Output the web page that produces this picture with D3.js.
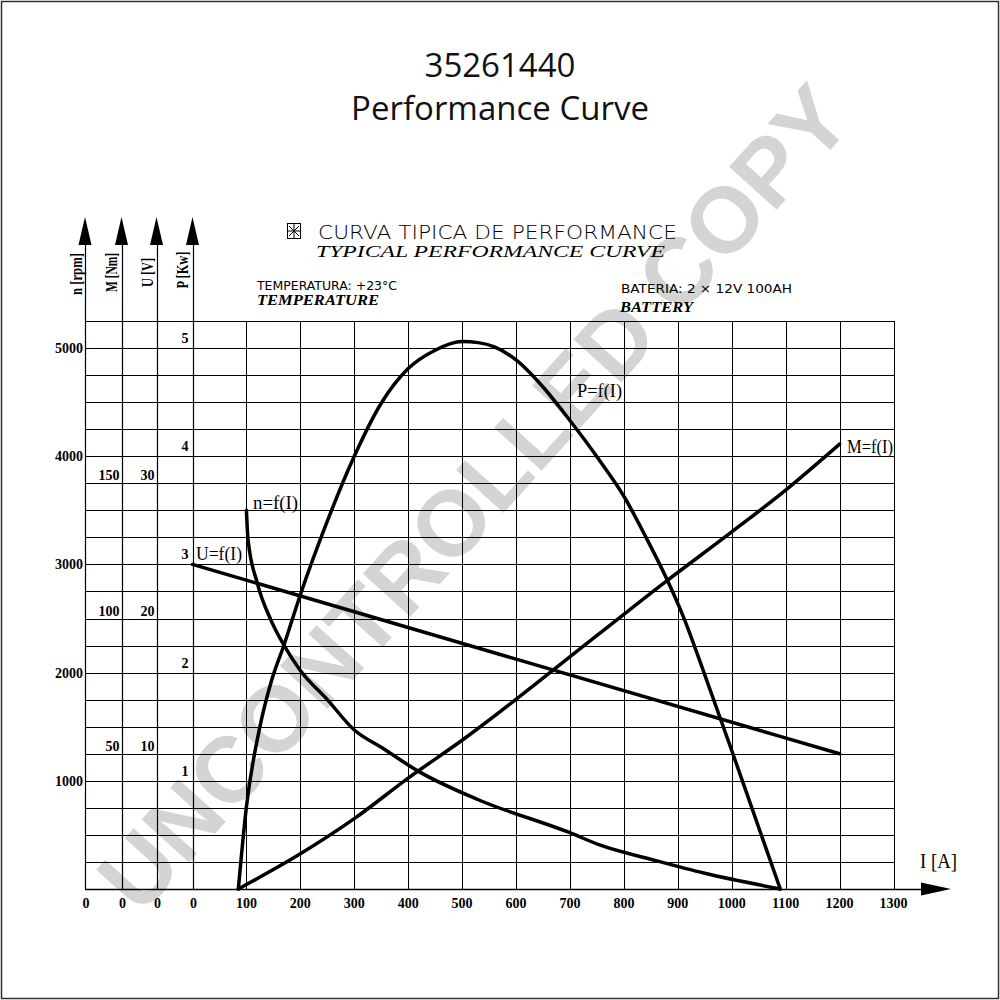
<!DOCTYPE html>
<html><head><meta charset="utf-8">
<script src="https://cdn.jsdelivr.net/npm/d3@7/dist/d3.min.js"></script>
<style>body{margin:0;background:#fff}svg{display:block}</style>
</head><body>
<svg id="c" width="1000" height="1000"></svg>
<script>
// ---------- data ----------
const titleLines = ["35261440", "Performance Curve"];
const currentTicks = [100,200,300,400,500,600,700,800,900,1000,1100,1200,1300];
const speedTicks = [1000,2000,3000,4000,5000];
const torqueTicks = [50,100,150];
const voltageTicks = [10,20,30];
const powerTicks = [1,2,3,4,5];
const gridSpeedStep = 250;   // rpm per horizontal grid line
const gridCurrentStep = 100; // A per vertical grid line

// n = f(I)  [rpm]
const speedI   = [100, 103, 120, 145, 170, 200, 250, 300, 350, 420, 530, 700, 755, 855, 950, 1090];
const speedVal = [3500,3230,2830,2490,2250,2020,1750,1470,1310,1085,825, 520, 407, 268, 145, 0];
// U = f(I)  [V]
const voltI   = [0, 600, 1200];
const voltVal = [24, 17, 10];
// M = f(I)  [Nm]
const torqueI   = [85, 200, 300, 400, 500, 755, 880, 1000, 1100, 1200];
const torqueVal = [0, 13, 26, 41, 55, 94.5, 114, 132, 147.5, 164.5];
// P = f(I)  [kW]
const powerI   = [85, 100, 125, 145, 170, 200, 250, 300, 350, 400, 450, 500, 530, 560, 600, 650, 700, 755, 800, 840, 880, 910, 950, 1000, 1045, 1090];
const powerVal = [0, 0.76, 1.5, 1.9, 2.26, 2.72, 3.40, 4.0, 4.49, 4.81, 4.98, 5.06, 5.05, 5.01, 4.89, 4.64, 4.33, 3.96, 3.63, 3.26, 2.86, 2.52, 1.98, 1.28, 0.64, 0];

// ---------- layout ----------
const svg = d3.select("#c");
const X0 = 192.5, X1 = 893.5, Y0 = 889, YTOP = 321;
const axisX = {n: 85, M: 121.5, U: 156.5, P: 192.5};
const x  = d3.scaleLinear().domain([0, 1300]).range([X0, X1]);
const yN = d3.scaleLinear().domain([0, 5250]).range([Y0, YTOP]);
const yM = d3.scaleLinear().domain([0, 210]).range([Y0, YTOP]);
const yU = d3.scaleLinear().domain([0, 42]).range([Y0, YTOP]);
const yP = d3.scaleLinear().domain([0, 5.25]).range([Y0, YTOP]);
const serif = "'Liberation Serif','DejaVu Serif',serif";
const sans  = "'Liberation Sans','DejaVu Sans',sans-serif";

// border
svg.append("rect").attr("x",1.5).attr("y",1.5).attr("width",997).attr("height",997)
  .attr("fill","none").attr("stroke","#333").attr("stroke-width",1.5);

// watermark (under everything)
svg.append("text").attr("transform","translate(474,498) rotate(-48)")
  .attr("text-anchor","middle").attr("dominant-baseline","central")
  .attr("font-family",sans).attr("font-weight","bold").attr("font-size",93)
  .attr("fill","#d4d4d4").text("UNCONTROLLED COPY");

// title
svg.append("text").attr("x",500).attr("y",77).attr("text-anchor","middle")
  .attr("font-family","'Open Sans','Noto Sans',sans-serif").attr("font-size",33).attr("fill","#111").text(titleLines[0]);
svg.append("text").attr("x",500).attr("y",120).attr("text-anchor","middle")
  .attr("font-family","'Open Sans','Noto Sans',sans-serif").attr("font-size",33).attr("fill","#111").text(titleLines[1]);

// header block
const ic = svg.append("g").attr("stroke","#000").attr("stroke-width",1).attr("fill","none");
ic.append("rect").attr("x",287.5).attr("y",223.5).attr("width",13).attr("height",15);
ic.append("line").attr("x1",294).attr("y1",224).attr("x2",294).attr("y2",238);
ic.append("line").attr("x1",288).attr("y1",231).attr("x2",300).attr("y2",231);
ic.append("line").attr("x1",289).attr("y1",226).attr("x2",299).attr("y2",236);
ic.append("line").attr("x1",299).attr("y1",226).attr("x2",289).attr("y2",236);

function txt(t, xx, yy, opts) {
  const e = svg.append("text").attr("x",xx).attr("y",yy).text(t)
    .attr("font-family",opts.family||sans).attr("font-size",opts.size||12).attr("fill","#000");
  if (opts.weight) e.attr("font-weight",opts.weight);
  if (opts.style) e.attr("font-style",opts.style);
  if (opts.len) e.attr("textLength",opts.len).attr("lengthAdjust","spacingAndGlyphs");
  if (opts.anchor) e.attr("text-anchor",opts.anchor);
  return e;
}
txt("CURVA TIPICA DE PERFORMANCE", 318, 238.5, {family:"'DejaVu Sans',sans-serif", size:19, len:359}).attr("font-weight",200);
txt("TYPICAL PERFORMANCE CURVE", 316, 257, {family:serif, size:17, style:"italic", len:349});
txt("TEMPERATURA: +23°C", 257, 290, {family:"'DejaVu Sans',sans-serif", size:12, len:140});
txt("TEMPERATURE", 257, 305, {family:serif, size:14, style:"italic", weight:"bold", len:122});
txt("BATERIA: 2 × 12V 100AH", 621, 292.5, {family:"'DejaVu Sans',sans-serif", size:12, len:171});
txt("BATTERY", 620, 311.5, {family:serif, size:14, style:"italic", weight:"bold", len:73});

// ---------- grid ----------
const grid = svg.append("g").attr("stroke","#000").attr("stroke-width",1).attr("shape-rendering","crispEdges");
const hVals = d3.range(gridSpeedStep, 5251, gridSpeedStep);
grid.selectAll(".h").data(hVals).join("line")
  .attr("x1",axisX.n).attr("x2",X1).attr("y1",d=>Math.round(yN(d))+0.5).attr("y2",d=>Math.round(yN(d))+0.5);
const vVals = d3.range(gridCurrentStep, 1301, gridCurrentStep);
grid.selectAll(".v").data(vVals).join("line")
  .attr("x1",d=>Math.round(x(d))+0.5).attr("x2",d=>Math.round(x(d))+0.5).attr("y1",YTOP).attr("y2",Y0);

// vertical value axes with arrows
Object.values(axisX).forEach(ax => {
  svg.append("line").attr("x1",Math.round(ax)+0.5).attr("x2",Math.round(ax)+0.5).attr("y1",240).attr("y2",Y0)
    .attr("stroke","#000").attr("stroke-width",1.2);
  svg.append("path").attr("d",`M${ax},217 L${ax-6.5},245 L${ax+6.5},245 Z`).attr("fill","#000");
});
// horizontal current axis with arrow
svg.append("line").attr("x1",axisX.n).attr("x2",925).attr("y1",Y0+0.5).attr("y2",Y0+0.5)
  .attr("stroke","#000").attr("stroke-width",1.5);
svg.append("path").attr("d",`M951,${Y0} L921,${Y0-6.5} L921,${Y0+6.5} Z`).attr("fill","#000");

// axis titles (rotated)
const axTitles = [["n [rpm]",82,274,42],["M [Nm]",117,272.5,39],["U [V]",152.5,272.5,29],["P [Kw]",187.5,270,37]];
axTitles.forEach(([t,ax,ay,l]) => {
  svg.append("text").attr("transform",`translate(${ax},${ay}) rotate(-90)`).attr("text-anchor","middle")
    .attr("font-family",serif).attr("font-weight","bold").attr("font-size",16)
    .attr("textLength",l).attr("lengthAdjust","spacingAndGlyphs").text(t);
});
txt("I  [A]", 920, 868, {family:serif, size:20, len:37});

// ---------- tick labels ----------
function tickText(sel, data, fx, fy, anchor) {
  svg.selectAll(sel).data(data).join("text")
    .attr("x",fx).attr("y",fy).attr("text-anchor",anchor)
    .attr("font-family",serif).attr("font-size",14).attr("font-weight","bold").text(d=>d);
}
tickText(".tx", currentTicks, d=>x(d), 908, "middle");
Object.values(axisX).forEach(ax => {
  svg.append("text").attr("x",ax+1).attr("y",908).attr("text-anchor","middle")
    .attr("font-family",serif).attr("font-size",14).attr("font-weight","bold").text("0");
});
tickText(".tn", speedTicks, 83, d=>yN(d)+5, "end");
tickText(".tm", torqueTicks, axisX.M-2, d=>yM(d)-3, "end");
tickText(".tu", voltageTicks, axisX.U-2, d=>yU(d)-3, "end");
tickText(".tp", powerTicks, axisX.P-4, d=>yP(d)-5, "end");

// ---------- curves ----------
function curve(I, V, yS) {
  const pts = I.map((v,i)=>[x(v), yS(V[i])]);
  svg.append("path").attr("d", d3.line().curve(d3.curveMonotoneX)(pts))
    .attr("fill","none").attr("stroke","#000").attr("stroke-width",3.5)
    .attr("stroke-linejoin","round").attr("stroke-linecap","round");
}
curve(voltI, voltVal, yU);
curve(torqueI, torqueVal, yM);
curve(speedI, speedVal, yN);
curve(powerI, powerVal, yP);

// curve labels
txt("n=f(I)", 253, 509, {family:serif, size:18, len:45});
txt("U=f(I)", 196, 560, {family:serif, size:18, len:46});
txt("P=f(I)", 577, 397, {family:serif, size:18, len:45});
txt("M=f(I)", 847, 453, {family:serif, size:18, len:46});
</script>
</body></html>
